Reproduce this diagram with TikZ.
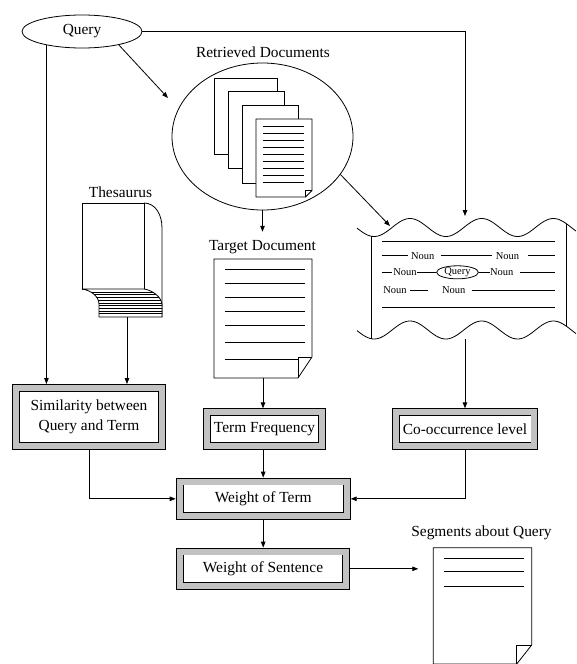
\documentclass[tikz,border=0pt]{standalone}
\usepackage{fontspec}
\setmainfont{Liberation Serif}
\usetikzlibrary{arrows.meta,calc,shapes.geometric}
\begin{document}
\begin{tikzpicture}[x=1pt,y=-1pt,
  lw/.style={line width=0.8pt},
  arr/.style={line width=0.8pt,-{Triangle[length=6pt,width=4.5pt]}},
  big/.style={font=\fontsize{15.4}{19.6}\selectfont},
  small/.style={font=\fontsize{10.5}{12}\selectfont},
  framebox/.style={draw, line width=0.9pt, double=black!24, double distance=6pt,
    fill=white, inner sep=0pt, outer sep=3.9pt, big, align=center},
  page/.style={draw, line width=0.8pt, fill=white},
  ghost/.style={inner sep=0pt, outer sep=0pt},
]
\useasboundingbox (0,0) rectangle (576,664);

% ---------- Query ----------
\node[draw, ellipse, lw, minimum width=120pt, minimum height=33pt, inner sep=0pt, big] (q) at (82,31.5) {Query};

% ---------- Retrieved documents ----------
\node[big] (retlabel) at (263,52) {Retrieved Documents};
\node[draw, ellipse, lw, minimum width=181pt, minimum height=147pt, inner sep=0pt] (ret) at (262.5,136.5) {};
\draw[page] (214,78) rectangle (277,154);
\draw[page] (228,91) rectangle (284,168);
\draw[page] (242,105) rectangle (298,183);
\draw[page] (256,119) -- (312,119) -- (312,190.5) -- (305.5,197) -- (256,197) -- cycle;
\draw[lw] (305.5,197) -- (305.5,190.5) -- (312,190.5);
\foreach \k in {0,...,8} \draw[lw] (263.3,{126.7+6.9*\k}) -- (304.3,{126.7+6.9*\k});

% ---------- Thesaurus ----------
\node[big] (thlabel) at (120.5,192) {Thesaurus};
\node[ghost, minimum width=80pt, minimum height=114pt] (th) at (122,260) {};
\draw[page] (82,203) rectangle (144,289);
\draw[lw] (144,203) .. controls (155,203) and (162,214) .. (162,228) -- (162,317);
\draw[lw, fill=white] (82,289) -- (144,289) .. controls (152,290) and (162,297) .. (162,305)
   -- (162,317) -- (99,317) -- (99,304) .. controls (99,296) and (90,290) .. (82,289) -- cycle;
\begin{scope}
  \clip (82,289) -- (144,289) .. controls (152,290) and (162,297) .. (162,305)
   -- (162,317) -- (99,317) -- (99,304) .. controls (99,296) and (90,290) .. (82,289) -- cycle;
  \foreach \k in {0,...,8} \draw[line width=0.6pt] (80,{292+2.7*\k}) -- (165,{292+2.7*\k});
\end{scope}

% ---------- Target document ----------
\node[big] (tdlabel) at (262.5,247) {Target Document};
\node[ghost, minimum width=98pt, minimum height=119pt] (td) at (263,318.5) {};
\draw[page] (214,259) -- (312,259) -- (312,357) -- (298,378) -- (214,378) -- cycle;
\draw[lw] (298,378) -- (298,357) -- (312,357);
\foreach \yy in {269,283,297,311,325,342} \draw[lw] (225,\yy) -- (305,\yy);
\draw[lw] (225,359) -- (298,359);

% ---------- Co-occurrence scroll ----------
\node[ghost, minimum width=195pt, minimum height=123pt] (sc) at (465,277.5) {};
\coordinate (scin) at (390,226);
\draw[lw] plot[domain=357:576, samples=120, smooth] (\x, {227.5 - 9*cos(5.0209*(\x-410))});
\draw[lw] plot[domain=357:576, samples=120, smooth] (\x, {330 - 9*cos(5.0209*(\x-410))});
\draw[lw] (371.7,236.4) -- (371.7,338.9);
\draw[lw] (566.7,223.9) -- (566.7,326.4);
\draw[lw] (382,241.7) -- (555,241.7);
% line 2
\node[small] (n1) at (422.7,255.7) {Noun};
\node[small] (n2) at (507.5,255.7) {Noun};
\draw[lw] (381.7,255.7) -- (408.3,255.7);
\draw[lw] (441,255.7) -- (491.7,255.7);
\draw[lw] (528.3,255.7) -- (555,255.7);
% line 3
\node[small] (n3) at (405,272.3) {Noun};
\node[draw, ellipse, lw, minimum width=41.7pt, minimum height=13pt, inner sep=0pt, small] (sq) at (457.5,272.3) {Query};
\node[small] (n4) at (501.7,272.3) {Noun};
\draw[lw] (381.7,272.3) -- (391.7,272.3);
\draw[lw] (417.3,272.3) -- (sq.west);
\draw[lw] (sq.east) -- (490,272.3);
\draw[lw] (520,272.3) -- (555,272.3);
% line 4
\node[small] (n5) at (395,290) {Noun};
\node[small] (n6) at (453.8,290) {Noun};
\draw[lw] (410,290) -- (428.3,290);
\draw[lw] (471.7,290) -- (555,290);
\draw[lw] (382,307) -- (555,307);

% ---------- Boxes ----------
\node[framebox, minimum width=145.6pt, minimum height=58.2pt] (sim) at (89,417) {Similarity between\\Query and Term};
\node[framebox, minimum width=114.6pt, minimum height=33.9pt] (tf) at (264.5,429.2) {Term Frequency};
\node[framebox, minimum width=138.8pt, minimum height=33.9pt] (cooc) at (465,429.2) {Co-occurrence level};
\node[framebox, minimum width=167.2pt, minimum height=34.5pt] (wot) at (263.2,498.8) {Weight of Term};
\node[framebox, minimum width=166.5pt, minimum height=34.5pt] (wos) at (263,568.8) {Weight of Sentence};

% ---------- Segments ----------
\node[big] (seglabel) at (481.5,533) {Segments about Query};
\node[ghost, minimum width=98.4pt, minimum height=116.3pt] (seg) at (482.5,605.85) {};
\draw[page] (433.3,547.7) -- (531.7,547.7) -- (531.7,645) -- (516.7,664) -- (433.3,664) -- cycle;
\draw[lw] (516.7,664) -- (516.7,645) -- (531.7,645);
\foreach \yy in {558.3,571.7,586} \draw[lw] (444,\yy) -- (524,\yy);

% ---------- Connectors ----------
\coordinate (q1) at (q.-159.1);
\coordinate (qd) at (168,98);
\coordinate (th1) at ([xshift=5pt]th.south);
\draw[arr] (q1) -- (q1 |- sim.north);
\draw[arr] (q.-20.9) -- (qd);
\draw[arr] (q.east) -| (sc.north);
\draw[arr, shorten >=5pt] (ret.south) -- (tdlabel.north);
\draw[arr] (ret.-26.4) -- (scin);
\draw[arr] (th1) -- (th1 |- sim.north);
\draw[arr] (td.south) -- (td.south |- tf.north);
\draw[arr] (sc.south) -- (sc.south |- cooc.north);
\draw[arr] (sim.south) |- (wot.west);
\draw[arr] (wot.north |- tf.south) -- (wot.north);
\draw[arr] (cooc.south) |- (wot.east);
\draw[arr] (wot.south) -- (wot.south |- wos.north);
\draw[arr, shorten >=15pt] (wos.east) -- (wos.east -| seg.west);
\end{tikzpicture}
\end{document}
